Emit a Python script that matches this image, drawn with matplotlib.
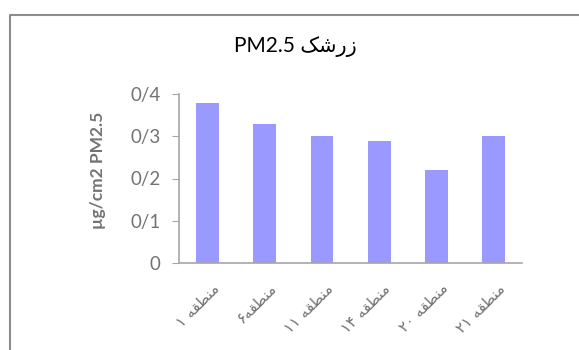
import matplotlib
matplotlib.use("Agg")
import matplotlib.pyplot as plt
import matplotlib.transforms as mtransforms
from matplotlib.lines import Line2D

# Persian text written in presentation forms, visual left-to-right order
MANTAGHE = "\uFEEA\uFED8\uFEC4\uFEE8\uFEE3"  # منطقه
regions = ["\u06F1 " + MANTAGHE,
           "\u06F6" + MANTAGHE,
           "\u06F1\u06F1 " + MANTAGHE,
           "\u06F1\u06F4 " + MANTAGHE,
           "\u06F2\u06F0 " + MANTAGHE,
           "\u06F2\u06F1 " + MANTAGHE]
pm25 = [0.38, 0.33, 0.30, 0.29, 0.22, 0.30]
yticks = [0, 0.1, 0.2, 0.3, 0.4]
ytick_labels = ["0", "0/1", "0/2", "0/3", "0/4"]
title = "PM2.5 " + "\uFB8F\uFEB7\uFEAD\uFEAF"  # زرشک

plt.rcParams['font.family'] = ['Lato', 'DejaVu Sans']
gray = "#737373"

fig = plt.figure(figsize=(5.79, 3.5), dpi=100)
ax = fig.add_axes([0.309, 0.249, 0.593, 0.482])

x = range(len(regions))
ax.bar(x, pm25, width=0.4, color="#9999FF")
ax.set_xlim(-0.5, len(regions) - 0.5)
ax.set_ylim(0, 0.4)

ax.set_yticks(yticks)
ax.set_yticklabels(ytick_labels, fontsize=13.5, color=gray)
ax.set_xticks(list(x))
ax.set_xticklabels(regions, rotation=45, ha="right", rotation_mode="anchor",
                   fontsize=11, color=gray, family=['DejaVu Sans'])
ax.tick_params(axis="y", length=5, color="#A6A6A6", pad=8)
ax.tick_params(axis="x", length=0, pad=13)
shift = mtransforms.ScaledTranslation(4 / 100, 0, fig.dpi_scale_trans)
for lbl in ax.get_xticklabels():
    lbl.set_transform(lbl.get_transform() + shift)

for side in ["top", "right"]:
    ax.spines[side].set_visible(False)
for side in ["left", "bottom"]:
    ax.spines[side].set_color("#A6A6A6")
    ax.spines[side].set_linewidth(1.2)

ax.set_ylabel("\u00b5g/cm2 PM2.5", fontsize=12.5, fontweight="bold", color=gray)
ax.yaxis.set_label_coords(-0.212, 0.55)
fig.text(0.51, 0.866, title, ha="center", va="center", fontsize=15, color="black",
         family=['Lato', 'DejaVu Sans'])

# outer chart frame (top and left edges)
bx = 10 / 579
by = 1 - 15 / 350
fig.add_artist(Line2D([bx, bx, 1], [0, by, by], transform=fig.transFigure,
                      color="#8C8C8C", linewidth=1.5))

fig.savefig("out.png", dpi=100)
